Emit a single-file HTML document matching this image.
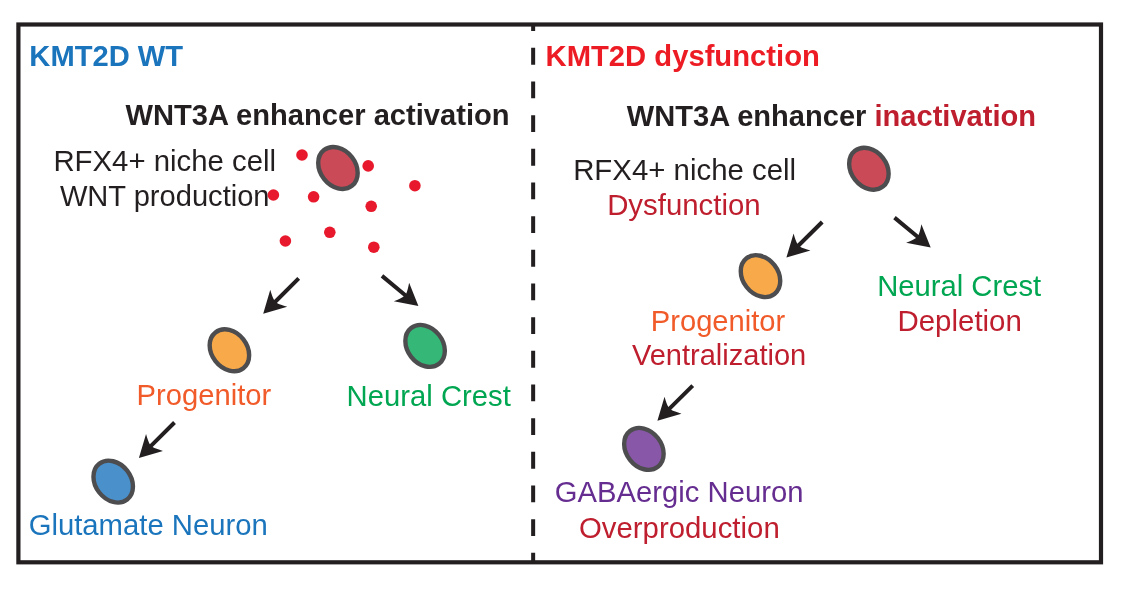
<!DOCTYPE html>
<html lang="en">
<head>
<meta charset="utf-8">
<title>KMT2D WT vs KMT2D dysfunction</title>
<style>
html,body{margin:0;padding:0;background:#fff;}
body{width:1129px;height:596px;overflow:hidden;}
svg{display:block;}
text{font-family:"Liberation Sans",Arial,Helvetica,sans-serif;font-size:29.2px;}
</style>
</head>
<body>
<svg width="1129" height="596" viewBox="0 0 1129 596">
<rect x="0" y="0" width="1129" height="596" fill="#fff"/>
<rect x="18.4" y="24.5" width="1082.6" height="537.8" fill="none" stroke="#231f20" stroke-width="4.2"/>
<line x1="533.15" y1="24.5" x2="533.15" y2="562.3" stroke="#231f20" stroke-width="4" stroke-dasharray="16.83 16.84" stroke-dashoffset="10.37"/>
<text x="29.35" y="66" font-weight="bold" fill="#1b75bc" textLength="153.78" lengthAdjust="spacingAndGlyphs">KMT2D WT</text>
<text x="545.55" y="65.6" font-weight="bold" fill="#ed1c24" textLength="274.31" lengthAdjust="spacingAndGlyphs">KMT2D dysfunction</text>
<text x="125.5" y="125.4" font-weight="bold" fill="#231f20" textLength="384.13" lengthAdjust="spacingAndGlyphs">WNT3A enhancer activation</text>
<text x="626.85" y="125.5" font-weight="bold" fill="#231f20" textLength="409.17" lengthAdjust="spacingAndGlyphs">WNT3A enhancer <tspan fill="#be1e2d">inactivation</tspan></text>
<text x="53.45" y="170.6" fill="#231f20" textLength="222.58" lengthAdjust="spacingAndGlyphs">RFX4+ niche cell</text>
<text x="59.9" y="205.8" fill="#231f20" textLength="209.64" lengthAdjust="spacingAndGlyphs">WNT production</text>
<text x="136.6" y="405.3" fill="#f15a29" textLength="134.67" lengthAdjust="spacingAndGlyphs">Progenitor</text>
<text x="346.6" y="405.7" fill="#00a651" textLength="164.18" lengthAdjust="spacingAndGlyphs">Neural Crest</text>
<text x="28.65" y="535.4" fill="#1b75bc" textLength="239.21" lengthAdjust="spacingAndGlyphs">Glutamate Neuron</text>
<text x="573.15" y="179.5" fill="#231f20" textLength="222.93" lengthAdjust="spacingAndGlyphs">RFX4+ niche cell</text>
<text x="607.15" y="214.7" fill="#be1e2d" textLength="153.58" lengthAdjust="spacingAndGlyphs">Dysfunction</text>
<text x="650.8" y="330.5" fill="#f15a29" textLength="134.47" lengthAdjust="spacingAndGlyphs">Progenitor</text>
<text x="631.9" y="365.4" fill="#be1e2d" textLength="174.39" lengthAdjust="spacingAndGlyphs">Ventralization</text>
<text x="877.15" y="295.5" fill="#00a651" textLength="163.98" lengthAdjust="spacingAndGlyphs">Neural Crest</text>
<text x="897.5" y="330.8" fill="#be1e2d" textLength="124.36" lengthAdjust="spacingAndGlyphs">Depletion</text>
<text x="554.85" y="502.3" fill="#662d91" textLength="248.57" lengthAdjust="spacingAndGlyphs">GABAergic Neuron</text>
<text x="578.95" y="537.8" fill="#be1e2d" textLength="200.78" lengthAdjust="spacingAndGlyphs">Overproduction</text>
<circle cx="302" cy="155" r="5.8" fill="#e8192c"/>
<circle cx="368.2" cy="165.9" r="5.8" fill="#e8192c"/>
<circle cx="414.9" cy="185.7" r="5.8" fill="#e8192c"/>
<circle cx="273.4" cy="195" r="5.8" fill="#e8192c"/>
<circle cx="313.6" cy="196.8" r="5.8" fill="#e8192c"/>
<circle cx="371.2" cy="206.3" r="5.8" fill="#e8192c"/>
<circle cx="329.8" cy="232.3" r="5.8" fill="#e8192c"/>
<circle cx="285.4" cy="241" r="5.8" fill="#e8192c"/>
<circle cx="373.8" cy="247.2" r="5.8" fill="#e8192c"/>
<ellipse cx="337.95" cy="167.95" rx="22.7" ry="17.7" transform="rotate(52 337.95 167.95)" fill="#cb4a58" stroke="#4d4d4f" stroke-width="4.4"/>
<ellipse cx="229.4" cy="350.3" rx="22.7" ry="17.7" transform="rotate(52 229.4 350.3)" fill="#f8a94a" stroke="#4d4d4f" stroke-width="4.4"/>
<ellipse cx="425.1" cy="345.9" rx="22.7" ry="17.7" transform="rotate(52 425.1 345.9)" fill="#35b777" stroke="#4d4d4f" stroke-width="4.4"/>
<ellipse cx="113.2" cy="481.6" rx="22.7" ry="17.7" transform="rotate(52 113.2 481.6)" fill="#4a90cb" stroke="#4d4d4f" stroke-width="4.4"/>
<ellipse cx="868.9" cy="168.7" rx="22.7" ry="17.7" transform="rotate(52 868.9 168.7)" fill="#cb4a58" stroke="#4d4d4f" stroke-width="4.4"/>
<ellipse cx="760.5" cy="276.1" rx="22.7" ry="17.7" transform="rotate(52 760.5 276.1)" fill="#f8a94a" stroke="#4d4d4f" stroke-width="4.4"/>
<ellipse cx="643.9" cy="448.9" rx="22.7" ry="17.7" transform="rotate(52 643.9 448.9)" fill="#8957a8" stroke="#4d4d4f" stroke-width="4.4"/>
<path d="M263.2 313.8L270.27 289.76Q272.32 297.04 274.09 300.08L297.29 276.89L300.11 279.71L276.92 302.91Q279.96 304.68 287.24 306.73Z" fill="#231f20"/>
<path d="M418.4 306.1L393.81 301.29Q400.87 298.57 403.73 296.53L380.72 277.44L383.28 274.36L406.29 293.45Q407.76 290.26 409.13 282.82Z" fill="#231f20"/>
<path d="M138.9 457.9L146.04 433.88Q148.07 441.17 149.83 444.21L173.09 421.08L175.91 423.92L152.65 447.05Q155.68 448.83 162.96 450.9Z" fill="#231f20"/>
<path d="M786.4 257.5L793.57 233.49Q795.59 240.78 797.35 243.83L820.79 220.58L823.61 223.42L800.16 246.67Q803.2 248.45 810.47 250.53Z" fill="#231f20"/>
<path d="M930.7 247.5L906.1 242.74Q913.15 240.01 916.01 237.96L893.23 219.14L895.77 216.06L918.56 234.88Q920.03 231.68 921.38 224.24Z" fill="#231f20"/>
<path d="M657.4 420.7L664.54 396.68Q666.57 403.97 668.33 407.01L691.29 384.18L694.11 387.02L671.15 409.85Q674.18 411.63 681.46 413.7Z" fill="#231f20"/>
</svg>
</body>
</html>
